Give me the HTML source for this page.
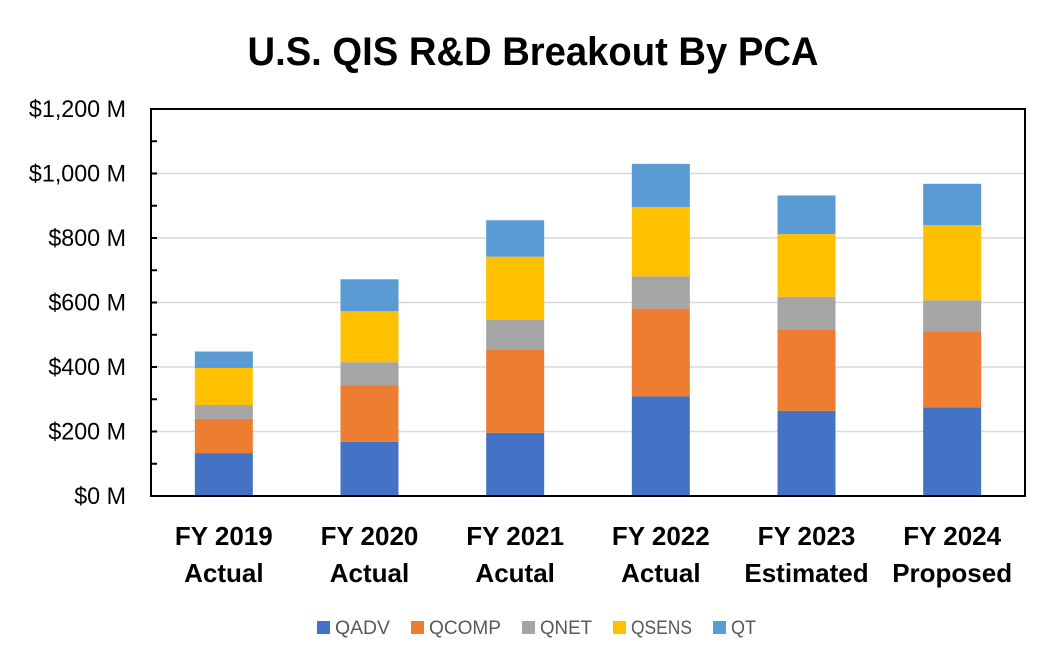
<!DOCTYPE html>
<html>
<head>
<meta charset="utf-8">
<title>U.S. QIS R&amp;D Breakout By PCA</title>
<style>
html,body{margin:0;padding:0;background:#fff;}
body{width:1053px;height:659px;overflow:hidden;}
svg{display:block;}
text{font-family:"Liberation Sans",sans-serif;}
</style>
</head>
<body>
<svg id="chart" width="1053" height="659" viewBox="0 0 1053 659" xmlns="http://www.w3.org/2000/svg">
  <rect x="0" y="0" width="1053" height="659" fill="#fff"/>
  <text x="533" y="65" text-anchor="middle" font-size="40" font-weight="700" fill="#000" textLength="571" lengthAdjust="spacingAndGlyphs">U.S. QIS R&amp;D Breakout By PCA</text>
  <g id="grid"></g>
  <g id="bars"></g>
  <g id="axes"></g>
  <g id="legend"></g>
</svg>
<script>
const categoriesLine1 = ["FY 2019", "FY 2020", "FY 2021", "FY 2022", "FY 2023", "FY 2024"];
const categoriesLine2 = ["Actual", "Actual", "Acutal", "Actual", "Estimated", "Proposed"];
const seriesNames = ["QADV", "QCOMP", "QNET", "QSENS", "QT"];
const seriesColors = ["#4472c4", "#ed7d31", "#a5a5a5", "#ffc000", "#5b9bd5"];
const qadv = [133, 168, 196, 309, 264, 275];
const qcomp = [106, 176, 259, 272, 253, 236];
const qnet = [43, 71, 92, 100, 101, 96];
const qsens = [115, 158, 195, 215, 194, 233];
const qt = [51, 99, 113, 134, 120, 128];
const majorTicks = [0, 200, 400, 600, 800, 1000, 1200];
const minorTicks = [100, 300, 500, 700, 900, 1100];
const tickLabels = ["$0 M", "$200 M", "$400 M", "$600 M", "$800 M", "$1,000 M", "$1,200 M"];

const seriesValues = [qadv, qcomp, qnet, qsens, qt];
const NS = "http://www.w3.org/2000/svg";
const plotLeft = 151, plotRight = 1025, plotTop = 109, plotBottom = 496, maxValue = 1200, barWidth = 58;

function yScale(v) { return plotBottom - (v / maxValue) * (plotBottom - plotTop); }
function xCenter(i) { return plotLeft + (i + 0.5) * (plotRight - plotLeft) / categoriesLine1.length; }
function make(tag, parent) {
  const el = document.createElementNS(NS, tag);
  parent.appendChild(el);
  return el;
}
function setAll(el, props) {
  for (const k in props) el.setAttribute(k, props[k]);
}

const grid = document.getElementById("grid");
const bars = document.getElementById("bars");
const axes = document.getElementById("axes");
const legend = document.getElementById("legend");

majorTicks.forEach(function (t, i) {
  if (t !== 0 && t !== maxValue) {
    const line = make("line", grid);
    
    
    setAll(line, {x1: plotLeft, x2: plotRight, y1: yScale(t), y2: yScale(t), stroke: "#d9d9d9", "stroke-width": 1.6});
  }
});

categoriesLine1.forEach(function (c, i) {
  let cum = 0;
  seriesValues.forEach(function (vals, s) {
    const y0 = yScale(cum);
    const y1 = yScale(cum + vals[i]);
    cum += vals[i];
    const r = make("rect", bars);
    
    
    setAll(r, {x: xCenter(i) - barWidth / 2, y: y1, width: barWidth, height: y0 - y1, fill: seriesColors[s]});
  });
});

const frame = make("rect", axes);


setAll(frame, {x: plotLeft, y: plotTop, width: plotRight - plotLeft, height: plotBottom - plotTop, fill: "none", stroke: "#000", "stroke-width": 2});

majorTicks.concat(minorTicks).forEach(function (t) {
  const tick = make("line", axes);
  
  
  setAll(tick, {x1: plotLeft, x2: plotLeft + 6, y1: yScale(t), y2: yScale(t), stroke: "#000", "stroke-width": 2});
});

majorTicks.forEach(function (t, i) {
  const label = make("text", axes);
  
  
  setAll(label, {x: 126, y: yScale(t) + 8, "text-anchor": "end", "font-size": 24, fill: "#000"});
  label.textContent = tickLabels[i];
  label.setAttribute("textLength", label.getComputedTextLength() * 0.97);
  label.setAttribute("lengthAdjust", "spacingAndGlyphs");
});

categoriesLine1.forEach(function (c, i) {
  const top = make("text", axes);
  
  
  setAll(top, {x: xCenter(i), y: 545, "text-anchor": "middle", "font-size": 26, "font-weight": 700, fill: "#000"});
  top.textContent = c;
  const bottom = make("text", axes);
  
  
  setAll(bottom, {x: xCenter(i), y: 582, "text-anchor": "middle", "font-size": 26, "font-weight": 700, fill: "#000"});
  bottom.textContent = categoriesLine2[i];
});

let legendX = 317;
const legendGaps = [55, 72, 52, 61, 25];
seriesNames.forEach(function (n, i) {
  const sw = make("rect", legend);
  
  
  setAll(sw, {x: legendX, y: 621, width: 13, height: 13, fill: seriesColors[i]});
  const tx = make("text", legend);
  
  
  setAll(tx, {x: legendX + 18, y: 634, "font-size": 19, fill: "#595959", textLength: legendGaps[i], lengthAdjust: "spacingAndGlyphs"});
  tx.textContent = n;
  legendX += 18 + legendGaps[i] + 21;
});
</script>
</body>
</html>
